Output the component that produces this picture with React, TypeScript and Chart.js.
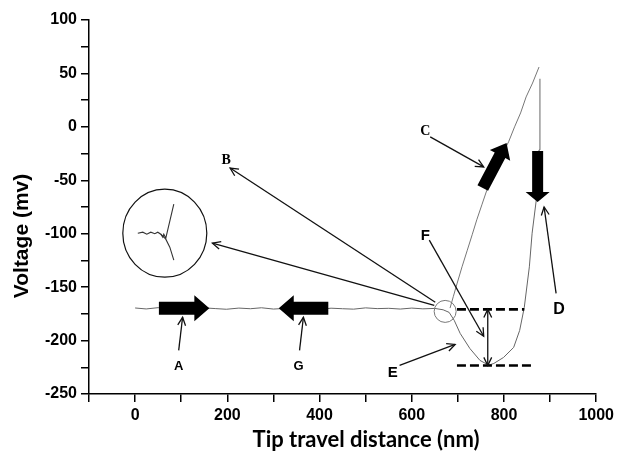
import { useEffect, useRef } from 'react';
import { Chart, registerables } from 'chart.js';
Chart.register(...registerables);

// ---- data ----
const xMajorTicks = [0, 200, 400, 600, 800, 1000];
const yMajorTicks = [-250, -200, -150, -100, -50, 0, 50, 100];

// approach trace: flat baseline, dip (E/F), then rise on the right (D)
const approachX = [0, 24, 50, 73, 100, 126, 150, 175, 198, 225, 250, 274, 300, 325, 350, 376, 400, 425, 450, 474, 500, 525, 550, 575, 600, 624, 650, 668, 681, 692, 705, 726, 748, 767, 778, 799, 821, 834, 844, 855, 861, 870, 876, 878];
const approachY = [-169.5, -170.4, -169.2, -170.6, -169.8, -170.3, -169.4, -170.1, -170.7, -169.6, -170.2, -169.3, -170.5, -169.9, -170.4, -169.5, -170.8, -169.7, -170.2, -170.6, -169.4, -170.1, -169.8, -170.5, -169.6, -170.3, -169.9, -171.2, -173.6, -181, -193.3, -207.4, -218.6, -223, -221.4, -215.8, -206.4, -190.5, -169, -131, -99.5, -68.6, -21.6, 45];

// rising branch (C)
const riseX = [683, 690, 698, 709, 720, 731, 741, 752, 763, 774, 784, 797, 810, 823, 836, 848, 862, 876];
const riseY = [-169.6, -159, -147, -131, -116, -101, -87, -73, -59, -48, -37, -25, -14, 0, 13, 28, 41, 56];

// ---- annotations (data coordinates) ----
const fatArrows = [
  { from: [51.6, -169.8], to: [161, -169.8], body: 6.5, head: 13, headLen: 15 },
  { from: [419, -169.8], to: [311.5, -169.8], body: 6.5, head: 13, headLen: 15 },
  { from: [754, -57.2], to: [805.6, -15], body: 6, head: 11.5, headLen: 14 },
  { from: [873, -22.5], to: [873, -70.4], body: 5.5, head: 12, headLen: 10 },
];
const thinArrows = [
  { from: [94.5, -209.2], to: [103, -178.2] },
  { from: [356.6, -209.2], to: [365, -178.2] },
  { from: [651, -164.2], to: [206, -38.5] },
  { from: [648.8, -167], to: [167.6, -108.8] },
  { from: [640, -9.4], to: [756, -37.5] },
  { from: [913, -155.8], to: [887, -75] },
  { from: [573.6, -223.3], to: [694, -203.6] },
  { from: [638, -106], to: [756, -196] },
];
const doubleArrow = { x: 764.8, y1: -170.8, y2: -223.3 };
const dashedLines = [
  { x1: 698, x2: 844, y: -170.8 },
  { x1: 698, x2: 866, y: -223.3 },
];
const smallCircle = { x: 672.4, y: -172.7 };
const bigCircle = { x: 64.4, y: -99.5 };
const labels = [
  { t: 'A', x: 94.5, y: -224.3, font: 'bold 13px "Liberation Sans"' },
  { t: 'G', x: 354.5, y: -224.3, font: 'bold 13px "Liberation Sans"' },
  { t: 'B', x: 197.6, y: -31, font: 'bold 14px "Liberation Serif"' },
  { t: 'C', x: 629.4, y: -3.8, font: 'bold 14px "Liberation Serif"' },
  { t: 'D', x: 919.5, y: -170.8, font: 'bold 16px "Liberation Sans"' },
  { t: 'E', x: 558.5, y: -229.9, font: 'bold 15px "Liberation Sans"' },
  { t: 'F', x: 629.4, y: -102.3, font: 'bold 15px "Liberation Sans"' },
];

function openHead(ctx: CanvasRenderingContext2D, x: number, y: number, ang: number, len = 9, spread = 0.45) {
  ctx.beginPath();
  ctx.moveTo(x - len * Math.cos(ang - spread), y - len * Math.sin(ang - spread));
  ctx.lineTo(x, y);
  ctx.lineTo(x - len * Math.cos(ang + spread), y - len * Math.sin(ang + spread));
  ctx.stroke();
}

const annotationPlugin = {
  id: 'annot',
  afterDatasetsDraw(chart: any) {
    const ctx: CanvasRenderingContext2D = chart.ctx;
    const xs = chart.scales.x;
    const ys = chart.scales.y;
    const px = (v: number) => xs.getPixelForValue(v);
    const py = (v: number) => ys.getPixelForValue(v);
    ctx.save();

    // dashed lines
    ctx.strokeStyle = '#000';
    ctx.lineWidth = 2.6;
    ctx.setLineDash([9, 4]);
    dashedLines.forEach((d) => {
      ctx.beginPath();
      ctx.moveTo(px(d.x1), py(d.y));
      ctx.lineTo(px(d.x2), py(d.y));
      ctx.stroke();
    });
    ctx.setLineDash([]);

    // fat arrows
    ctx.fillStyle = '#000';
    fatArrows.forEach((a) => {
      const x0 = px(a.from[0]), y0 = py(a.from[1]);
      const x1 = px(a.to[0]), y1 = py(a.to[1]);
      const L = Math.hypot(x1 - x0, y1 - y0);
      const ux = (x1 - x0) / L, uy = (y1 - y0) / L;
      const nx = -uy, ny = ux;
      const bx = x1 - ux * a.headLen, by = y1 - uy * a.headLen;
      ctx.beginPath();
      ctx.moveTo(x0 + nx * a.body, y0 + ny * a.body);
      ctx.lineTo(bx + nx * a.body, by + ny * a.body);
      ctx.lineTo(bx + nx * a.head, by + ny * a.head);
      ctx.lineTo(x1, y1);
      ctx.lineTo(bx - nx * a.head, by - ny * a.head);
      ctx.lineTo(bx - nx * a.body, by - ny * a.body);
      ctx.lineTo(x0 - nx * a.body, y0 - ny * a.body);
      ctx.closePath();
      ctx.fill();
    });

    // thin arrows
    ctx.strokeStyle = '#111';
    ctx.lineWidth = 1.3;
    thinArrows.forEach((a) => {
      const x0 = px(a.from[0]), y0 = py(a.from[1]);
      const x1 = px(a.to[0]), y1 = py(a.to[1]);
      ctx.beginPath();
      ctx.moveTo(x0, y0);
      ctx.lineTo(x1, y1);
      ctx.stroke();
      openHead(ctx, x1, y1, Math.atan2(y1 - y0, x1 - x0));
    });

    // double arrow
    {
      const x = px(doubleArrow.x), yA = py(doubleArrow.y1), yB = py(doubleArrow.y2);
      ctx.beginPath();
      ctx.moveTo(x, yA);
      ctx.lineTo(x, yB);
      ctx.stroke();
      openHead(ctx, x, yA, -Math.PI / 2);
      openHead(ctx, x, yB, Math.PI / 2);
    }

    // small circle
    ctx.strokeStyle = '#777';
    ctx.lineWidth = 1;
    ctx.beginPath();
    ctx.arc(px(smallCircle.x), py(smallCircle.y), 11, 0, Math.PI * 2);
    ctx.stroke();

    // big inset circle
    const cx = px(bigCircle.x), cy = py(bigCircle.y);
    ctx.strokeStyle = '#111';
    ctx.lineWidth = 1.2;
    ctx.beginPath();
    ctx.ellipse(cx, cy, 42, 44, 0, 0, Math.PI * 2);
    ctx.stroke();
    ctx.strokeStyle = '#333';
    ctx.lineWidth = 1.1;
    ctx.beginPath();
    ctx.moveTo(cx - 27, cy);
    ctx.lineTo(cx - 22, cy - 1);
    ctx.lineTo(cx - 18, cy + 1);
    ctx.lineTo(cx - 14, cy - 1);
    ctx.lineTo(cx - 10, cy + 0.5);
    ctx.lineTo(cx - 7, cy - 1);
    ctx.lineTo(cx - 4, cy + 1);
    ctx.lineTo(cx - 2, cy + 4);
    ctx.lineTo(cx - 1, cy + 1);
    ctx.lineTo(cx + 1, cy + 5);
    ctx.lineTo(cx + 9, cy - 29);
    ctx.stroke();
    ctx.beginPath();
    ctx.moveTo(cx - 4, cy + 1);
    ctx.lineTo(cx + 1, cy + 6);
    ctx.lineTo(cx + 5, cy + 14);
    ctx.lineTo(cx + 9, cy + 27);
    ctx.stroke();

    // labels
    ctx.fillStyle = '#000';
    ctx.textAlign = 'center';
    ctx.textBaseline = 'middle';
    labels.forEach((l) => {
      ctx.font = l.font;
      ctx.fillText(l.t, px(l.x), py(l.y));
    });

    ctx.restore();
  },
  afterDraw(chart: any) {
    const ctx: CanvasRenderingContext2D = chart.ctx;
    ctx.save();
    ctx.fillStyle = '#000';
    ctx.textAlign = 'center';
    ctx.textBaseline = 'middle';
    ctx.font = 'bold 22px Lato';
    ctx.fillText('Tip travel distance (nm)', 366, 440);
    ctx.translate(22, 236);
    ctx.rotate(-Math.PI / 2);
    ctx.font = 'bold 21px "Liberation Sans"';
    ctx.fillText('Voltage (mv)', 0, 0);
    ctx.restore();
  },
};

export default function App() {
  const ref = useRef<HTMLCanvasElement>(null);
  useEffect(() => {
    document.body.style.margin = '0';
    const tickFont = { family: '"Liberation Sans"', size: 16, weight: 'bold' as const };
    const chart = new Chart(ref.current!, {
      type: 'scatter',
      data: {
        datasets: [
          {
            data: approachX.map((x, i) => ({ x, y: approachY[i] })),
            showLine: true,
            borderColor: '#666',
            borderWidth: 1,
            pointRadius: 0,
            tension: 0,
          },
          {
            data: riseX.map((x, i) => ({ x, y: riseY[i] })),
            showLine: true,
            borderColor: '#777',
            borderWidth: 1,
            pointRadius: 0,
            tension: 0,
          },
        ],
      },
      options: {
        animation: false,
        responsive: false,
        devicePixelRatio: 1,
        layout: { padding: { top: 20, right: 18, left: 0, bottom: 0 } },
        plugins: { legend: { display: false }, tooltip: { enabled: false }, title: { display: false } },
        scales: {
          x: {
            type: 'linear',
            min: -100,
            max: 1000,
            ticks: {
              stepSize: 100,
              autoSkip: false,
              maxRotation: 0,
              color: '#000',
              font: tickFont,
              padding: 4,
              callback: (v: any) => (xMajorTicks.includes(Number(v)) ? String(v) : ''),
            },
            grid: { drawOnChartArea: false, drawTicks: true, tickLength: 8, color: '#000', lineWidth: 1.5 },
            border: { display: true, color: '#000', width: 1.5 },
            afterFit: (s: any) => { s.height = 58; },
          },
          y: {
            type: 'linear',
            min: -250,
            max: 100,
            ticks: {
              stepSize: 25,
              autoSkip: false,
              color: '#000',
              font: tickFont,
              padding: 4,
              callback: (v: any) => (yMajorTicks.includes(Number(v)) ? String(v) : ''),
            },
            grid: { drawOnChartArea: false, drawTicks: true, tickLength: 8, color: '#000', lineWidth: 1.5 },
            border: { display: true, color: '#000', width: 1.5 },
            afterFit: (s: any) => { s.width = 89; },
          },
        },
      },
      plugins: [annotationPlugin],
    });
    return () => chart.destroy();
  }, []);
  return (
    <div style={{ width: 618, height: 452, position: 'relative', background: '#fff' }}>
      <canvas ref={ref} width={618} height={452} style={{ display: 'block' }} />
    </div>
  );
}
